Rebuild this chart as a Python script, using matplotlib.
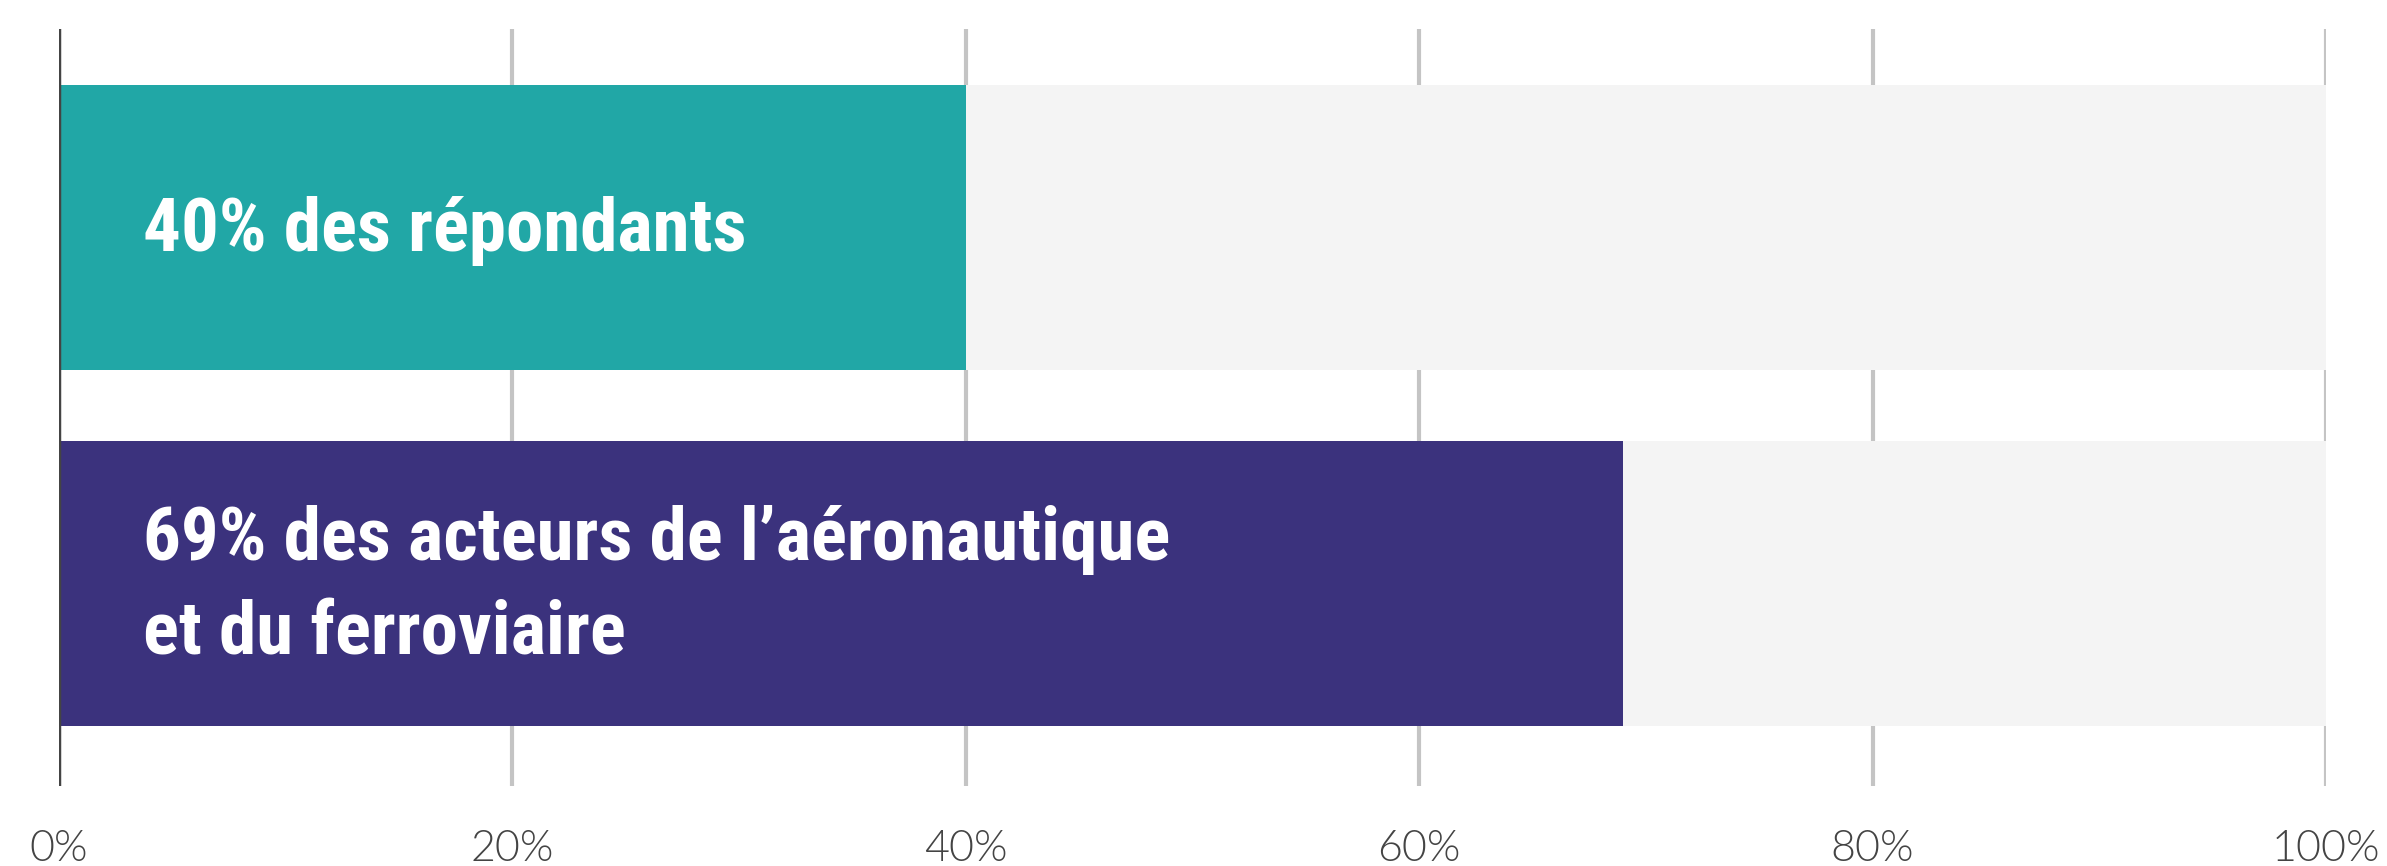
import matplotlib
matplotlib.use("Agg")
import matplotlib.pyplot as plt

# données
labels = ["40% des répondants", "69% des acteurs de l’aéronautique\net du ferroviaire"]
values = [40, 69]
colors = ["#21a7a6", "#3b327d"]
ticks = [0, 20, 40, 60, 80, 100]
tick_labels = ["0%", "20%", "40%", "60%", "80%", "100%"]

W, H = 2387, 866
fig = plt.figure(figsize=(W / 100, H / 100), dpi=100)
ax = fig.add_axes([59 / W, 80 / H, (2326 - 59) / W, 757 / H])

pos = list(range(len(values)))
ax.barh(pos, [100] * len(values), height=0.8, color="#f4f4f4", zorder=2)
ax.barh(pos, values, height=0.8, color=colors, zorder=3)

for p, lab in zip(pos, labels):
    ax.text(3.7, p + 0.01, lab, color="white", va="center", ha="left",
            fontsize=54, fontweight="bold", linespacing=1.45,
            family=["Roboto Condensed", "Roboto", "DejaVu Sans"], zorder=4)

ax.set_xlim(0, 100)
ax.set_ylim(1.567, -0.557)
ax.set_xticks(ticks)
ax.set_xticklabels(tick_labels, fontsize=31, color="#444444",
                   family=["Lato", "DejaVu Sans"], fontweight=300)
ax.tick_params(axis="x", length=0, pad=32)
ax.set_yticks([])

for t in ticks[1:]:
    ax.axvline(t, color="#c4c4c4", lw=3, zorder=1)
ax.axvline(0, color="#444444", lw=2.5, zorder=5)

for s in ax.spines.values():
    s.set_visible(False)

fig.savefig("out.png", dpi=100, facecolor="white")
